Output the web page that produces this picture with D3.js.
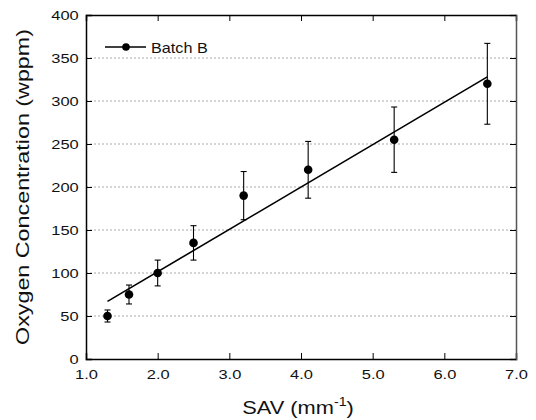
<!DOCTYPE html>
<meta charset="utf-8">
<script src="https://d3js.org/d3.v7.min.js"></script>
<style>
  body { margin: 0; background: #fff; }
  text { font-family: "Liberation Sans", Arial, sans-serif; fill: #111; }
</style>
<div id="chart"></div>
<script>

// data
var sav    = [1.3, 1.6, 2.0, 2.5, 3.2, 4.1, 5.3, 6.6];
var oxygen = [50, 75, 100, 135, 190, 220, 255, 320];
var errors = [7, 11, 15, 20, 28, 33, 38, 47];

// linear fit end points
var fitX = [1.3, 6.6];
var fitY = [67, 328];

var xTicks = [1, 2, 3, 4, 5, 6, 7];
var yTicks = [0, 50, 100, 150, 200, 250, 300, 350, 400];

var margin = {top: 15, right: 20, bottom: 61, left: 86},
    width = 536 - margin.left - margin.right,
    height = 420 - margin.top - margin.bottom;

// the original lettering is wider than Arial, so text gets stretched
var stretch = 1.22;

var svg = d3.select("#chart")
  .append("svg")
    .attr("width", 536)
    .attr("height", 420)
  .append("g")
    .attr("transform", "translate(" + margin.left + "," + margin.top + ")");

var x = d3.scaleLinear().domain([1, 7]).range([0, width]);
var y = d3.scaleLinear().domain([0, 400]).range([height, 0]);

// dotted grid
svg.append("g")
  .selectAll("line")
  .data(yTicks.filter(function(d) { return d > 0 && d < 400; }))
  .enter().append("line")
    .attr("x1", 0).attr("x2", width)
    .attr("y1", function(d) { return y(d); })
    .attr("y2", function(d) { return y(d); })
    .attr("stroke", "#aaa")
    .attr("stroke-width", 1)
    .attr("stroke-dasharray", "2,2");

// axes, ticks pointing inward
var xAxis = svg.append("g")
  .attr("transform", "translate(0," + height + ")")
  .call(d3.axisBottom(x).tickValues(xTicks).tickSize(-6).tickPadding(10)
    .tickFormat(d3.format(".1f")));
var xTop = svg.append("g")
  .call(d3.axisTop(x).tickValues(xTicks).tickSize(-6).tickFormat(""));
var yAxis = svg.append("g")
  .call(d3.axisLeft(y).tickValues(yTicks).tickSize(-6).tickPadding(6));
var yRight = svg.append("g")
  .attr("transform", "translate(" + width + ",0)")
  .call(d3.axisRight(y).tickValues(yTicks).tickSize(-6).tickFormat(""));

[xAxis, xTop, yAxis, yRight].forEach(function(a) {
  a.select(".domain").attr("stroke", "#000").attr("stroke-width", 1.5);
  a.selectAll(".tick line").attr("stroke", "#000").attr("stroke-width", 1);
  a.selectAll("text")
    .style("font-size", "13.5px")
    .style("font-family", "Liberation Sans, Arial, sans-serif")
    .attr("fill", "#111")
    .attr("transform", "scale(" + stretch + ",1)");
});
yRight.select(".domain").attr("stroke", "#555");

// fit line
svg.append("line")
  .attr("x1", x(fitX[0])).attr("y1", y(fitY[0]))
  .attr("x2", x(fitX[1])).attr("y2", y(fitY[1]))
  .attr("stroke", "#000")
  .attr("stroke-width", 1.6);

var pts = sav.map(function(d, i) { return {x: d, y: oxygen[i], e: errors[i]}; });

// error bars
var eb = svg.append("g").selectAll("g").data(pts).enter().append("g")
  .attr("stroke", "#000").attr("stroke-width", 1.1);
eb.append("line")
  .attr("x1", function(d) { return x(d.x); })
  .attr("x2", function(d) { return x(d.x); })
  .attr("y1", function(d) { return y(d.y - d.e); })
  .attr("y2", function(d) { return y(d.y + d.e); });
eb.append("line")
  .attr("x1", function(d) { return x(d.x) - 3; })
  .attr("x2", function(d) { return x(d.x) + 3; })
  .attr("y1", function(d) { return y(d.y + d.e); })
  .attr("y2", function(d) { return y(d.y + d.e); });
eb.append("line")
  .attr("x1", function(d) { return x(d.x) - 3; })
  .attr("x2", function(d) { return x(d.x) + 3; })
  .attr("y1", function(d) { return y(d.y - d.e); })
  .attr("y2", function(d) { return y(d.y - d.e); });

// markers
svg.append("g").selectAll("circle").data(pts).enter().append("circle")
  .attr("cx", function(d) { return x(d.x); })
  .attr("cy", function(d) { return y(d.y); })
  .attr("r", 4.3)
  .attr("fill", "#000");

// legend
var leg = svg.append("g").attr("transform", "translate(19,32)");
leg.append("line").attr("x1", 0).attr("x2", 41).attr("y1", 0).attr("y2", 0)
  .attr("stroke", "#000").attr("stroke-width", 1.6);
leg.append("circle").attr("cx", 21).attr("cy", 0).attr("r", 3.8).attr("fill", "#000");
leg.append("text")
  .attr("transform", "translate(46,5.5) scale(1.08,1)")
  .style("font-size", "15px").text("Batch B");

// axis titles
var xt = svg.append("text")
  .attr("transform", "translate(" + (width / 2 - 3) + "," + (height + 55) + ") scale(1.18,1)")
  .style("text-anchor", "middle")
  .style("font-size", "18.5px");
xt.append("tspan").text("SAV (mm");
xt.append("tspan").attr("dy", -8).style("font-size", "12px").text("-1");
xt.append("tspan").attr("dy", 8).text(")");

svg.append("text")
  .attr("transform", "translate(-57," + (height / 2) + ") rotate(-90) scale(1.26,1)")
  .style("text-anchor", "middle")
  .style("font-size", "18.5px")
  .text("Oxygen Concentration (wppm)");

</script>
